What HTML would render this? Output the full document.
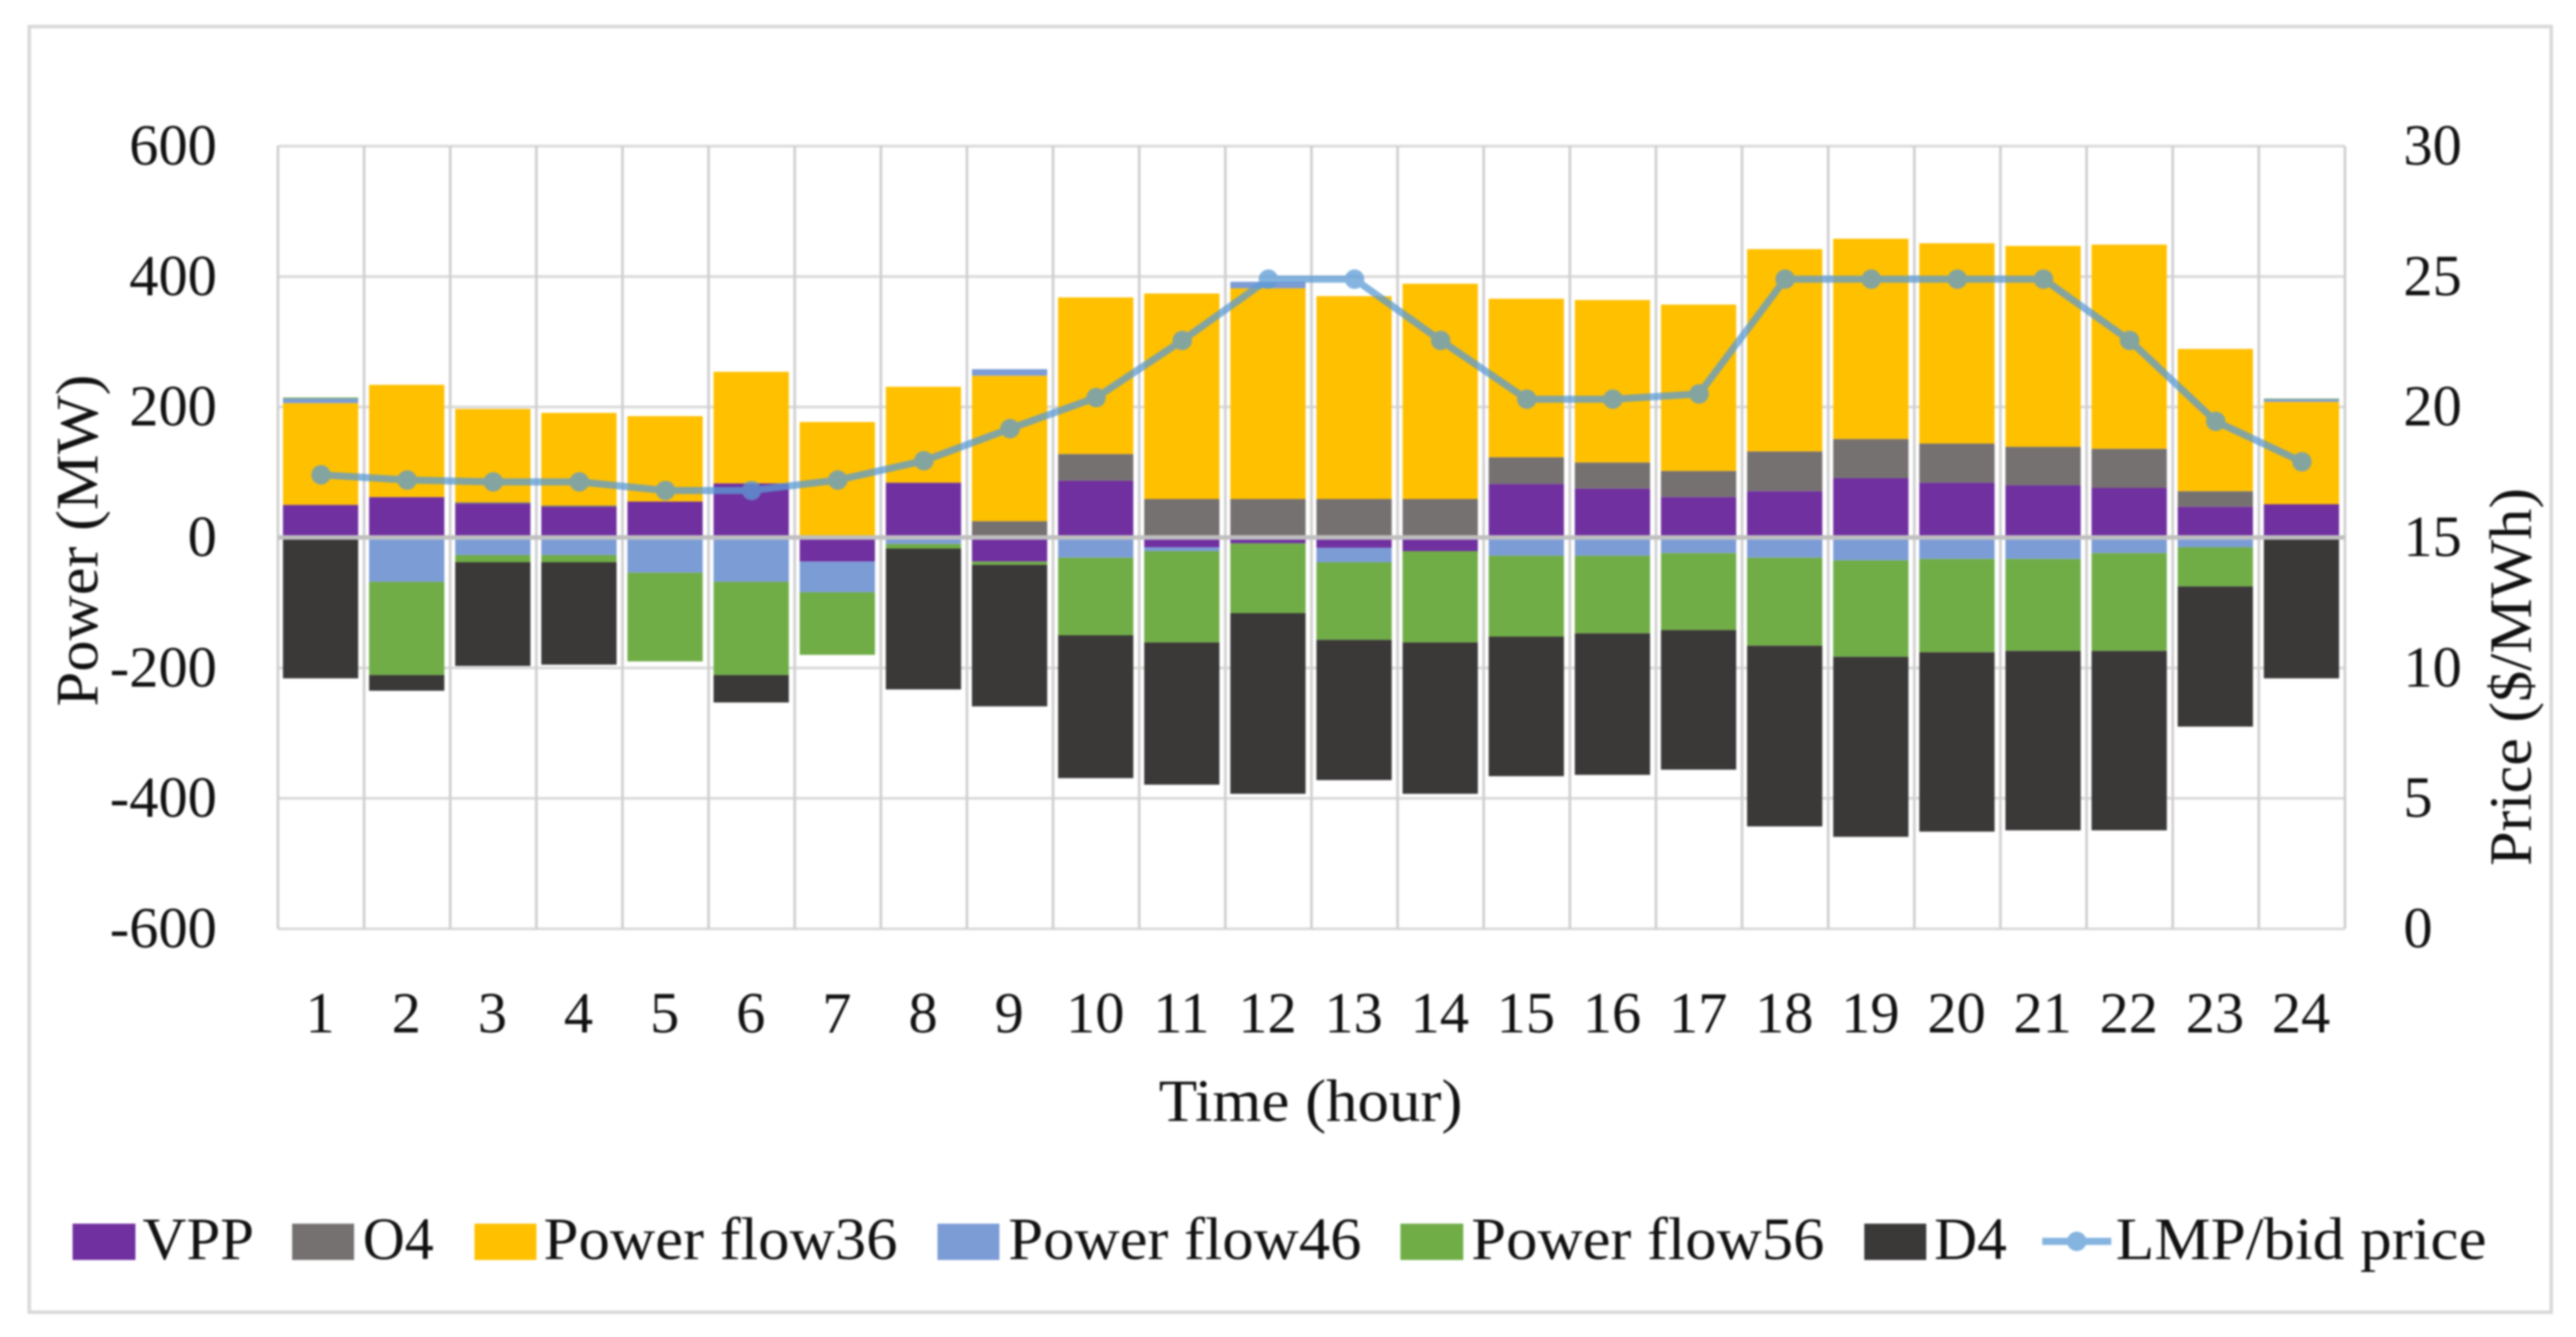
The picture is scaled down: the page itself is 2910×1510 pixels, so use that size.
<!DOCTYPE html>
<html lang="en">
<head>
<meta charset="utf-8">
<title>VPP power and LMP chart</title>
<style>
html,body{margin:0;padding:0;background:#fff;}
body{width:2910px;height:1510px;overflow:hidden;}
svg{display:block;filter:blur(1.1px);}
text{font-family:"Liberation Serif","DejaVu Serif",serif;fill:#111;}
</style>
</head>
<body>
<svg id="chart" xmlns="http://www.w3.org/2000/svg" width="2910" height="1510" viewBox="0 0 2910 1510">
  <rect x="33" y="30" width="2849" height="1452" fill="#fff" stroke="#d9d9d9" stroke-width="4"/>
  <g id="grid"></g>
  <g id="bars"></g>
  <line x1="314" x2="2649" y1="607" y2="607" stroke="#bfbfbf" stroke-width="5"/>
  <g id="priceLayer" opacity="0.75"></g>
  <g id="ticks"></g>
  <text transform="translate(110,798) rotate(-90)" font-size="68" textLength="375" lengthAdjust="spacingAndGlyphs">Power (MW)</text>
  <text transform="translate(2859,978) rotate(-90)" font-size="68" textLength="427" lengthAdjust="spacingAndGlyphs">Price ($/MWh)</text>
  <text x="1309" y="1266" font-size="68" textLength="343" lengthAdjust="spacingAndGlyphs">Time (hour)</text>

  <g>
    <g>
      <rect x="82" y="1382" width="71" height="41" fill="#7030A0"/>
      <text x="161" y="1422" font-size="68" textLength="126" lengthAdjust="spacingAndGlyphs">VPP</text>
    </g>
    <g>
      <rect x="330" y="1382" width="70" height="41" fill="#767171"/>
      <text x="410" y="1422" font-size="68" textLength="80" lengthAdjust="spacingAndGlyphs">O4</text>
    </g>
    <g>
      <rect x="536" y="1382" width="70" height="41" fill="#FFC000"/>
      <text x="614" y="1422" font-size="68" textLength="400" lengthAdjust="spacingAndGlyphs">Power flow36</text>
    </g>
    <g>
      <rect x="1059" y="1382" width="70" height="41" fill="#7C9CD6"/>
      <text x="1139" y="1422" font-size="68" textLength="399" lengthAdjust="spacingAndGlyphs">Power flow46</text>
    </g>
    <g>
      <rect x="1582" y="1382" width="71" height="41" fill="#70AD47"/>
      <text x="1662" y="1422" font-size="68" textLength="399" lengthAdjust="spacingAndGlyphs">Power flow56</text>
    </g>
    <g>
      <rect x="2106" y="1382" width="70" height="41" fill="#3B3838"/>
      <text x="2185" y="1422" font-size="68" textLength="82" lengthAdjust="spacingAndGlyphs">D4</text>
    </g>
    <g>
      <g opacity="0.75">
        <line x1="2307" x2="2385" y1="1402" y2="1402" stroke="#5B9BD5" stroke-width="8"/>
        <circle cx="2346" cy="1402" r="11" fill="#5B9BD5"/>
      </g>
      <text x="2390" y="1422" font-size="68" textLength="419" lengthAdjust="spacingAndGlyphs">LMP/bid price</text>
    </g>
  </g>
</svg>
<script>
const hours = ["1","2","3","4","5","6","7","8","9","10","11","12","13","14","15","16","17","18","19","20","21","22","23","24"];
const leftTicks = [600,400,200,0,-200,-400,-600];
const rightTicks = [30,25,20,15,10,5,0];
const vpp = [50,62,52,47,55,83,-37,84,-37,87,-15,-9,-16,-21,82,75,62,71,91,84,80,76,47,51];
const o4 = [0,0,2,2,0,0,0,0,25,41,59,59,59,59,41,40,40,61,60,60,59,60,24,0];
const flow36 = [156,172,143,142,131,171,177,147,223,240,315,323,311,330,243,249,255,310,307,307,308,313,218,157];
const flow46 = [7,-68,-27,-27,-54,-68,-47,-10,10,-31,-6,10,-22,0,-28,-28,-24,-31,-35,-33,-33,-24,-15,4];
const flow56 = [1.5,-143,-11,-11,-136,-143,-96,-7,-5,-119,-140,-107,-119,-140,-124,-119,-118,-135,-148,-143,-141,-150,-60,1];
const d4 = [-216,-24,-159,-157,0,-42,0,-216,-217,-219,-218,-277,-215,-232,-214,-217,-214,-277,-276,-275,-275,-275,-215,-216];
const price = [17.4,17.2,17.13,17.13,16.8,16.8,17.2,17.94,19.17,20.36,22.55,24.9,24.9,22.55,20.3,20.3,20.5,24.9,24.9,24.9,24.9,22.55,19.45,17.9];

const seriesList = [
  {key:"vpp", color:"#7030A0", values:vpp},
  {key:"o4", color:"#767171", values:o4},
  {key:"power-flow36", color:"#FFC000", values:flow36},
  {key:"power-flow46", color:"#7C9CD6", values:flow46},
  {key:"power-flow56", color:"#70AD47", values:flow56},
  {key:"d4", color:"#3B3838", values:d4}
];

const NS = "http://www.w3.org/2000/svg";
const plotLeft = 314, plotRight = 2649, plotTop = 165, plotBottom = 1049;
const band = (plotRight - plotLeft) / hours.length;
const barWidth = 85;
const xCenter = i => plotLeft + band * (i + 0.5);
const yLeft = v => plotTop + (600 - v) / 1200 * (plotBottom - plotTop);
const yRight = v => plotTop + (30 - v) / 30 * (plotBottom - plotTop);

function make(tag, parent, attrs) {
  const el = document.createElementNS(NS, tag);
  for (const k in attrs) el.setAttribute(k, attrs[k]);
  parent.appendChild(el);
  return el;
}

const grid = document.getElementById("grid");
leftTicks.forEach(t => {
  const line = make("line", grid, {x1:plotLeft, x2:plotRight, y1:yLeft(t), y2:yLeft(t), stroke:"#d9d9d9", "stroke-width":3});
  
  
});
for (let i = 0; i <= hours.length; i++) {
  const x = plotLeft + band * i;
  const line = make("line", grid, {x1:x, x2:x, y1:plotTop, y2:plotBottom, stroke:"#cfcfcf", "stroke-width":3});
  
  
}

const barsLayer = document.getElementById("bars");
hours.forEach((h, i) => {
  let pos = 0, neg = 0;
  seriesList.forEach(s => {
    const v = s.values[i];
    if (v === 0) return;
    let from, to;
    if (v > 0) { from = pos; to = pos + v; pos = to; }
    else { from = neg; to = neg + v; neg = to; }
    const top = Math.min(yLeft(from), yLeft(to));
    const height = Math.abs(yLeft(from) - yLeft(to));
    const r = make("rect", barsLayer, {x:xCenter(i) - barWidth / 2 - 0.5, y:top, width:barWidth, height:height, fill:s.color});
    
    
  });
});

const priceLayer = document.getElementById("priceLayer");
const pts = price.map((p, i) => xCenter(i) + "," + yRight(p)).join(" ");
const priceLine = make("polyline", priceLayer, {points:pts, fill:"none", stroke:"#5B9BD5", "stroke-width":8, "stroke-linejoin":"round"});


price.forEach((p, i) => {
  const c = make("circle", priceLayer, {cx:xCenter(i), cy:yRight(p), r:11, fill:"#5B9BD5"});
  
  
});

const ticks = document.getElementById("ticks");
leftTicks.forEach(t => {
  const el = make("text", ticks, {x:245, y:yLeft(t) + 21, "font-size":66, "text-anchor":"end"});
  
  
  el.textContent = String(t);
});
rightTicks.forEach(t => {
  const el = make("text", ticks, {x:2715, y:yRight(t) + 21, "font-size":66});
  
  
  el.textContent = String(t);
});
hours.forEach((h, i) => {
  const el = make("text", ticks, {x:xCenter(i) - 1, y:1166, "font-size":66, "text-anchor":"middle"});
  
  
  el.textContent = h;
});
</script>
</body>
</html>
